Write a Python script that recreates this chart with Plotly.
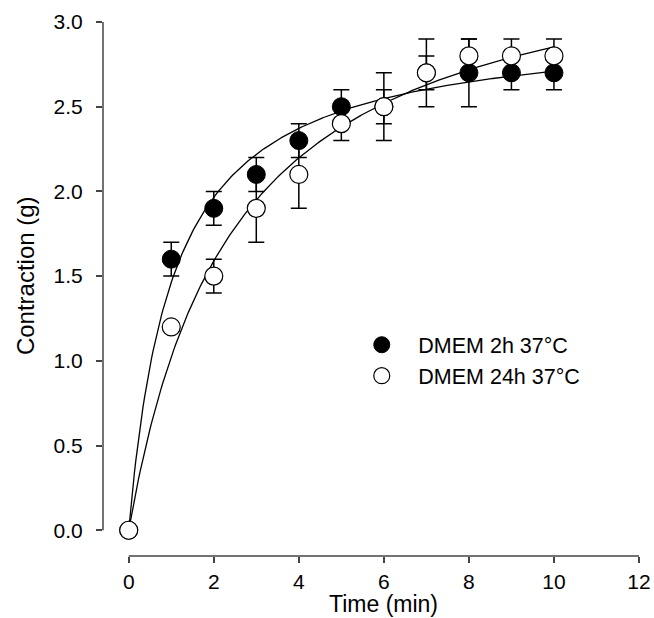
import numpy as np
import plotly.graph_objects as go

# 데이터
time_min = [0, 1, 2, 3, 4, 5, 6, 7, 8, 9, 10]

dmem_2h = [0, 1.6, 1.9, 2.1, 2.3, 2.5, 2.5, 2.7, 2.7, 2.7, 2.7]
dmem_2h_err = [0, 0.1, 0.1, 0.1, 0.1, 0.1, 0.1, 0.1, 0.2, 0.1, 0.1]

dmem_24h = [0, 1.2, 1.5, 1.9, 2.1, 2.4, 2.5, 2.7, 2.8, 2.8, 2.8]
dmem_24h_err = [0, 0, 0.1, 0.2, 0.2, 0.1, 0.2, 0.2, 0.1, 0.1, 0.1]

x_ticks = [0, 2, 4, 6, 8, 10, 12]
y_ticks = [0.0, 0.5, 1.0, 1.5, 2.0, 2.5, 3.0]

FONT = "Liberation Sans, Arial, sans-serif"
AXIS_COLOR = "#444444"


# y = a*x/(b+x) 최소제곱 피팅
def fit_hyperbola(x, y):
    x = np.asarray(x, dtype=float)
    y = np.asarray(y, dtype=float)
    best = None
    for b in np.linspace(0.05, 10, 4000):
        f = x / (b + x)
        a = f.dot(y) / f.dot(f)
        sse = ((a * f - y) ** 2).sum()
        if best is None or sse < best[0]:
            best = (sse, a, b)
    return best[1], best[2]


xs = np.linspace(0, max(time_min), 300)

fig = go.Figure()

for y, name in [(dmem_2h, "fit 2h"), (dmem_24h, "fit 24h")]:
    a, b = fit_hyperbola(time_min, y)
    fig.add_trace(go.Scatter(
        x=xs, y=a * xs / (b + xs),
        mode="lines",
        line=dict(color="black", width=1.3),
        showlegend=False,
        hoverinfo="skip",
    ))

# 채운 원: 2h
fig.add_trace(go.Scatter(
    x=time_min, y=dmem_2h,
    mode="markers",
    name="DMEM 2h 37°C",
    marker=dict(symbol="circle", size=18, color="black",
                line=dict(color="black", width=1)),
    error_y=dict(type="data", array=dmem_2h_err, visible=True,
                 color="black", thickness=1.5, width=8),
    cliponaxis=False,
))

# 빈 원: 24h
fig.add_trace(go.Scatter(
    x=time_min, y=dmem_24h,
    mode="markers",
    name="DMEM 24h 37°C",
    marker=dict(symbol="circle", size=18, color="white",
                line=dict(color="black", width=1.2)),
    error_y=dict(type="data", array=dmem_24h_err, visible=True,
                 color="black", thickness=1.5, width=8),
    cliponaxis=False,
))

# 축 선 (떨어진 축)
fig.add_shape(type="line", xref="x", yref="paper",
              x0=x_ticks[0], x1=x_ticks[-1], y0=0, y1=0,
              line=dict(color=AXIS_COLOR, width=1.5))
fig.add_shape(type="line", xref="paper", yref="y",
              x0=0, x1=0, y0=y_ticks[0], y1=y_ticks[-1],
              line=dict(color=AXIS_COLOR, width=1.5))

# 축 제목
fig.add_annotation(text="Time (min)", xref="x", yref="paper",
                   x=(x_ticks[0] + x_ticks[-1]) / 2, y=0,
                   yanchor="top", yshift=-33, showarrow=False,
                   font=dict(family=FONT, size=23, color="black"))
fig.add_annotation(text="Contraction (g)", xref="paper", yref="y",
                   x=0, y=(y_ticks[0] + y_ticks[-1]) / 2,
                   xanchor="center", xshift=-78, textangle=-90,
                   showarrow=False,
                   font=dict(family=FONT, size=24, color="black"))

fig.update_layout(
    width=654, height=618,
    margin=dict(l=103, r=15, t=22, b=62),
    plot_bgcolor="white",
    paper_bgcolor="white",
    font=dict(family=FONT, size=21, color="black"),
    xaxis=dict(
        range=[-0.605, 12], tickvals=x_ticks,
        ticks="outside", ticklen=6, tickwidth=1.5, tickcolor=AXIS_COLOR,
        showline=False, showgrid=False, zeroline=False,
        ticklabelstandoff=1, automargin=False,
    ),
    yaxis=dict(
        range=[-0.152, 3.0], tickvals=y_ticks, tickformat=".1f",
        ticks="outside", ticklen=6, tickwidth=1.5, tickcolor=AXIS_COLOR,
        showline=False, showgrid=False, zeroline=False,
        ticklabelstandoff=9, automargin=False,
    ),
    legend=dict(
        x=0.452, y=0.434, xanchor="left", yanchor="top",
        font=dict(family=FONT, size=21.5, color="black"),
        bgcolor="rgba(0,0,0,0)",
        itemwidth=63,
    ),
)

fig.write_html("out.html", config={"displayModeBar": False},
               post_script="document.body.style.margin='0';")
